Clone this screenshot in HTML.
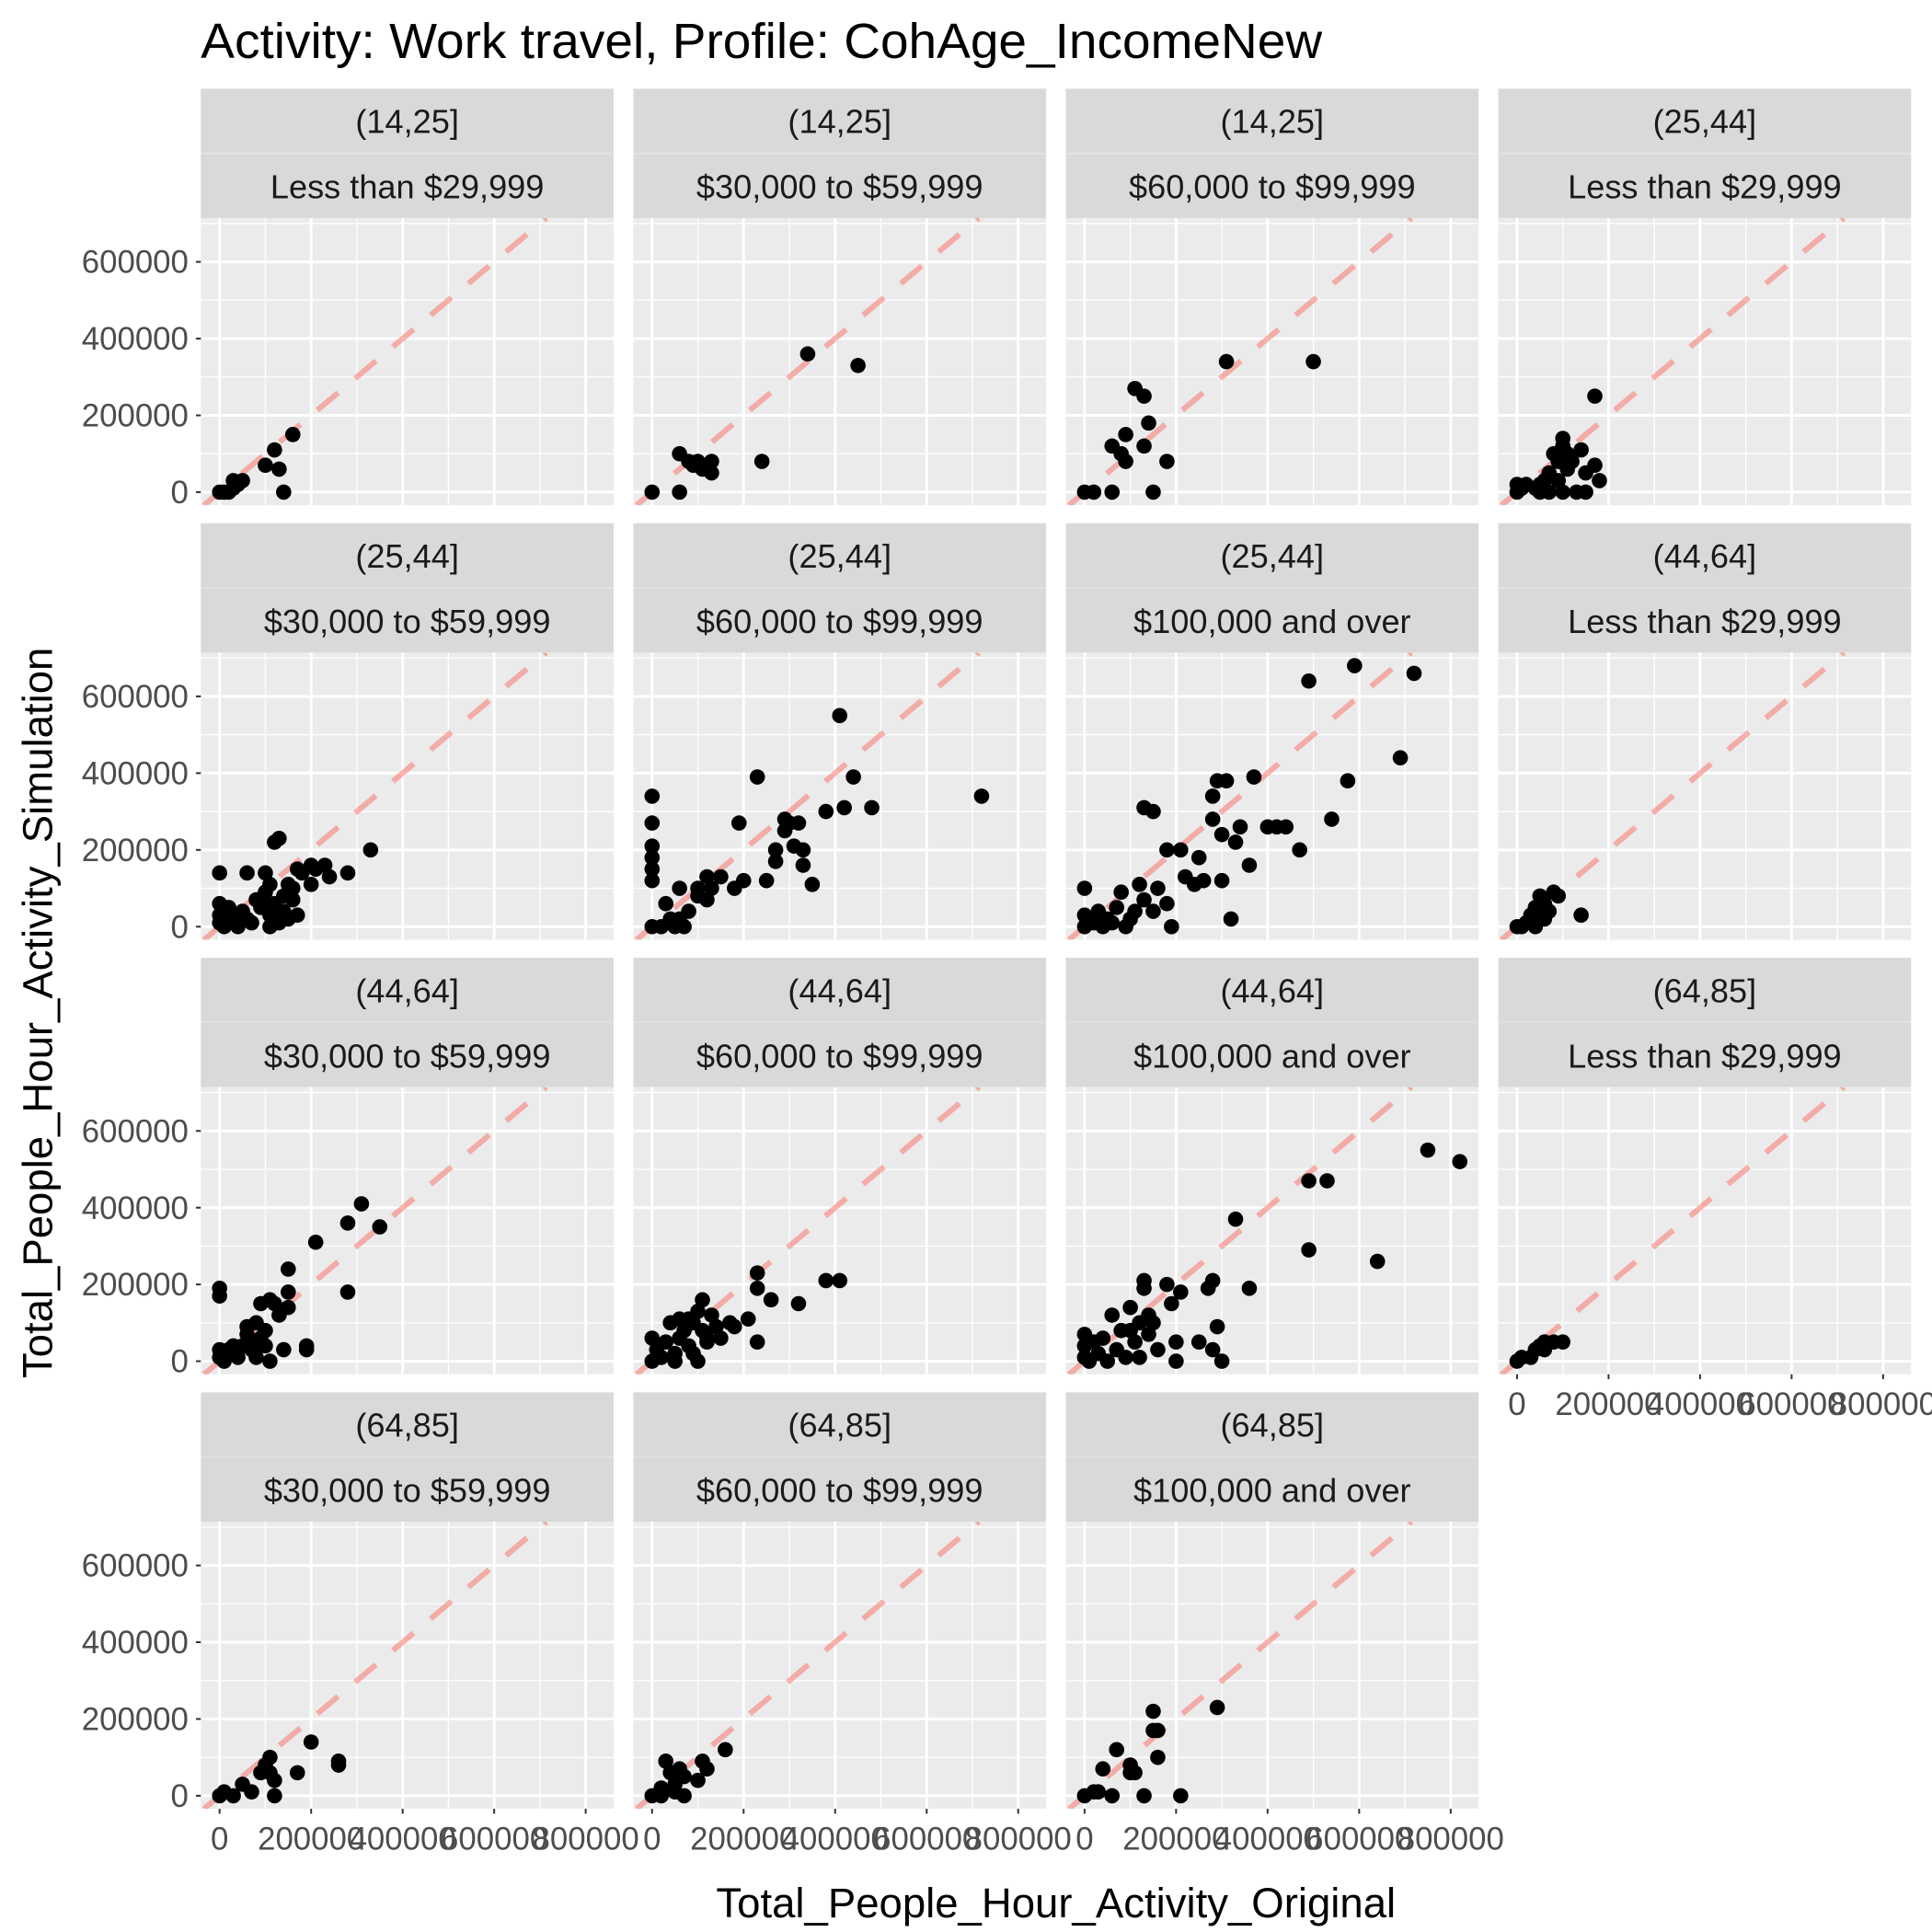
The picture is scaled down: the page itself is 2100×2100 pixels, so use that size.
<!DOCTYPE html>
<html><head><meta charset="utf-8"><style>
html,body{margin:0;padding:0;background:#fff}
svg{display:block}
text{font-family:"Liberation Sans",Arial,sans-serif}
</style></head><body>
<svg id="chart" width="2100" height="2100" viewBox="0 0 1568 1568" xmlns="http://www.w3.org/2000/svg">
<text x="163" y="47" font-size="40" fill="#000" textLength="910" lengthAdjust="spacingAndGlyphs">Activity: Work travel, Profile: CohAge_IncomeNew</text>
<text x="857" y="1556" font-size="34" text-anchor="middle" fill="#000">Total_People_Hour_Activity_Original</text>
<text x="0" y="0" font-size="34" text-anchor="middle" fill="#000" transform="translate(42,822) rotate(-90)">Total_People_Hour_Activity_Simulation</text>
<g id="panels"></g>
</svg>
<script>
const ageLabels = ["(14,25]","(14,25]","(14,25]","(25,44]","(25,44]","(25,44]","(25,44]","(44,64]","(44,64]","(44,64]","(44,64]","(64,85]","(64,85]","(64,85]","(64,85]"];
const incomeLabels = ["Less than $29,999","$30,000 to $59,999","$60,000 to $99,999","Less than $29,999","$30,000 to $59,999","$60,000 to $99,999","$100,000 and over","Less than $29,999","$30,000 to $59,999","$60,000 to $99,999","$100,000 and over","Less than $29,999","$30,000 to $59,999","$60,000 to $99,999","$100,000 and over"];
const xTicks = [0,200000,400000,600000,800000];
const yTicks = [0,200000,400000,600000];
const xTickLabels = ["0","200000","400000","600000","800000"];
const yTickLabels = ["0","200000","400000","600000"];
const p0x=[0,10000,30000,40000,30000,100000,120000,130000,140000,160000,20000,50000];
const p0y=[0,0,30000,20000,10000,70000,110000,60000,0,150000,0,30000];
const p1x=[0,60000,60000,80000,100000,110000,130000,130000,240000,340000,450000,90000];
const p1y=[0,0,100000,80000,80000,60000,50000,80000,80000,360000,330000,70000];
const p2x=[0,20000,60000,60000,80000,90000,90000,110000,130000,130000,140000,150000,180000,310000,500000];
const p2y=[0,0,120000,0,100000,150000,80000,270000,250000,120000,180000,0,80000,340000,340000];
const p3x=[0,0,10000,20000,40000,50000,50000,60000,70000,70000,80000,90000,100000,100000,110000,110000,120000,130000,140000,150000,150000,170000,170000,180000,100000,90000];
const p3y=[20000,0,10000,20000,10000,0,20000,30000,0,50000,100000,80000,120000,140000,100000,60000,80000,0,110000,0,50000,70000,250000,30000,0,30000];
const p4x=[0,0,0,0,10000,20000,30000,40000,50000,60000,60000,70000,90000,100000,100000,110000,110000,120000,120000,130000,130000,140000,140000,150000,150000,160000,170000,170000,180000,200000,200000,210000,230000,240000,280000,330000,100000,110000,160000,80000];
const p4y=[140000,60000,30000,10000,0,50000,20000,0,40000,20000,140000,10000,50000,90000,140000,30000,110000,60000,220000,230000,10000,80000,40000,110000,20000,70000,30000,150000,140000,110000,160000,150000,160000,130000,140000,200000,60000,0,100000,70000];
const p5x=[0,0,0,0,0,0,0,20000,30000,40000,50000,60000,60000,70000,80000,100000,120000,120000,130000,150000,180000,190000,200000,230000,250000,270000,270000,290000,290000,300000,310000,320000,330000,330000,350000,380000,410000,420000,440000,480000,720000,100000];
const p5y=[340000,270000,210000,180000,150000,120000,0,0,60000,20000,0,20000,100000,0,40000,100000,130000,70000,100000,130000,100000,270000,120000,390000,120000,170000,200000,250000,280000,270000,210000,270000,160000,200000,110000,300000,550000,310000,390000,310000,340000,80000];
const p6x=[0,0,0,20000,30000,40000,50000,60000,70000,80000,90000,100000,110000,120000,130000,130000,150000,150000,160000,180000,180000,190000,210000,220000,240000,250000,260000,280000,280000,300000,290000,300000,310000,320000,330000,340000,370000,400000,420000,470000,490000,590000,720000,690000,575000,540000,440000,360000];
const p6y=[100000,30000,0,10000,40000,0,20000,10000,50000,90000,0,20000,40000,110000,70000,310000,300000,40000,100000,60000,200000,0,200000,130000,110000,180000,120000,340000,280000,240000,380000,120000,380000,20000,220000,260000,390000,260000,260000,200000,640000,680000,660000,440000,380000,280000,260000,160000];
const p7x=[0,10000,20000,30000,40000,50000,60000,70000,80000,90000,40000,60000,140000,30000];
const p7y=[0,0,10000,30000,50000,80000,60000,40000,90000,80000,0,20000,30000,10000];
const p8x=[0,0,0,0,10000,20000,30000,40000,50000,60000,60000,70000,70000,80000,90000,90000,100000,100000,110000,110000,120000,130000,140000,150000,150000,150000,190000,190000,210000,280000,280000,310000,350000,80000,30000];
const p8y=[190000,170000,30000,10000,0,30000,20000,10000,40000,70000,90000,30000,50000,10000,150000,60000,80000,40000,160000,0,150000,120000,30000,240000,180000,140000,30000,40000,310000,360000,180000,410000,350000,100000,40000];
const p9x=[0,0,10000,20000,30000,40000,50000,50000,60000,60000,70000,80000,90000,90000,100000,100000,110000,110000,120000,130000,140000,150000,170000,180000,210000,230000,230000,230000,260000,320000,380000,410000,120000,80000];
const p9y=[60000,0,30000,10000,50000,100000,20000,0,60000,110000,80000,40000,100000,20000,130000,0,160000,80000,60000,120000,90000,60000,100000,90000,110000,230000,190000,50000,160000,150000,210000,210000,50000,110000];
const p10x=[0,0,0,10000,20000,30000,40000,50000,60000,70000,80000,90000,100000,110000,120000,120000,130000,130000,140000,150000,160000,180000,190000,200000,200000,210000,250000,270000,280000,290000,280000,300000,330000,360000,490000,490000,530000,640000,750000,820000,100000,140000];
const p10y=[70000,40000,10000,0,50000,20000,60000,0,120000,30000,80000,10000,140000,50000,10000,100000,190000,210000,70000,100000,30000,200000,150000,50000,0,180000,50000,190000,210000,90000,30000,0,370000,190000,470000,290000,470000,260000,550000,520000,80000,120000];
const p11x=[0,10000,30000,50000,60000,60000,80000,100000,40000];
const p11y=[0,10000,10000,40000,30000,50000,50000,50000,30000];
const p12x=[0,10000,30000,50000,70000,90000,100000,110000,110000,120000,120000,170000,200000,260000,260000];
const p12y=[0,10000,0,30000,10000,60000,80000,100000,60000,40000,0,60000,140000,90000,80000];
const p13x=[0,20000,30000,40000,50000,60000,70000,70000,100000,110000,120000,160000,20000,50000];
const p13y=[0,20000,90000,60000,30000,70000,50000,0,40000,90000,70000,120000,0,10000];
const p14x=[0,20000,30000,40000,60000,70000,100000,100000,110000,130000,150000,150000,160000,160000,290000,210000];
const p14y=[0,10000,10000,70000,0,120000,80000,60000,60000,0,220000,170000,170000,100000,230000,0];
const seriesX=[p0x,p1x,p2x,p3x,p4x,p5x,p6x,p7x,p8x,p9x,p10x,p11x,p12x,p13x,p14x];
const seriesY=[p0y,p1y,p2y,p3y,p4y,p5y,p6y,p7y,p8y,p9y,p10y,p11y,p12y,p13y,p14y];

const NS="http://www.w3.org/2000/svg";
const XMIN=-41000,XMAX=861000,YMIN=-34000,YMAX=714000;
const PW=335,PH=233,COL0=163,COLSTEP=351,ROW0=72,ROWSTEP=352.67,STRIP=105;
function mk(tag,attrs,parent){const e=document.createElementNS(NS,tag);for(const k in attrs)e.setAttribute(k,attrs[k]);parent.appendChild(e);return e;}
const root=document.getElementById("panels");
for(let i=0;i<15;i++){
  const col=i%4,row=Math.floor(i/4);
  const L=COL0+col*COLSTEP, T=ROW0+row*ROWSTEP, PT=T+STRIP;
  const sx=v=>L+(v-XMIN)/(XMAX-XMIN)*PW;
  const sy=v=>PT+PH-(v-YMIN)/(YMAX-YMIN)*PH;
  const g=mk("g",{},root);
  
  
  const s1=mk("rect",{x:L,y:T,width:PW,height:52,fill:"#d9d9d9"},g);
  
  
  const s2=mk("rect",{x:L,y:T+53,width:PW,height:52,fill:"#d9d9d9"},g);
  
  
  mk("line",{x1:L,x2:L+PW,y1:T+52.5,y2:T+52.5,stroke:"#e0e0e0","stroke-width":1},g);
  const t1=mk("text",{x:L+PW/2,y:T+36,"font-size":27,"text-anchor":"middle",fill:"#1a1a1a"},g);t1.textContent=ageLabels[i];
  
  
  const t2=mk("text",{x:L+PW/2,y:T+89,"font-size":27,"text-anchor":"middle",fill:"#1a1a1a"},g);t2.textContent=incomeLabels[i];
  
  
  const bg=mk("rect",{x:L,y:PT,width:PW,height:PH,fill:"#ebebeb"},g);
  
  
  for(let v=100000;v<XMAX;v+=200000)mk("line",{x1:sx(v),x2:sx(v),y1:PT,y2:PT+PH,stroke:"#fff","stroke-width":1},g);
  for(let v=100000;v<YMAX;v+=200000)mk("line",{x1:L,x2:L+PW,y1:sy(v),y2:sy(v),stroke:"#fff","stroke-width":1},g);
  xTicks.forEach(v=>mk("line",{x1:sx(v),x2:sx(v),y1:PT,y2:PT+PH,stroke:"#fff","stroke-width":2.2},g));
  yTicks.forEach(v=>mk("line",{x1:L,x2:L+PW,y1:sy(v),y2:sy(v),stroke:"#fff","stroke-width":2.2},g));
  const cid="clip"+i;
  const cp=mk("clipPath",{id:cid},g);mk("rect",{x:L,y:PT,width:PW,height:PH},cp);
  const dl=mk("line",{x1:sx(YMIN),y1:sy(YMIN),x2:sx(YMAX),y2:sy(YMAX),stroke:"#F8766D","stroke-opacity":0.55,"stroke-width":4.5,"stroke-dasharray":"22 18","clip-path":"url(#"+cid+")"},g);
  
  
  const xs=seriesX[i],ys=seriesY[i];
  for(let k=0;k<xs.length;k++){
    const c=mk("circle",{cx:sx(xs[k]),cy:sy(ys[k]),r:6.2,fill:"#000"},g);
    
    
  }
  if(col===0){
    yTicks.forEach((v,j)=>{
      mk("line",{x1:L-4,x2:L,y1:sy(v),y2:sy(v),stroke:"#333","stroke-width":1.5},g);
      const t=mk("text",{x:L-10,y:sy(v)+9,"font-size":26,"text-anchor":"end",fill:"#4d4d4d"},g);t.textContent=yTickLabels[j];
      
      
    });
  }
  if(row===3||i===11){
    xTicks.forEach((v,j)=>{
      mk("line",{x1:sx(v),x2:sx(v),y1:PT+PH,y2:PT+PH+4,stroke:"#333","stroke-width":1.5},g);
      const t=mk("text",{x:sx(v),y:PT+PH+33,"font-size":26,"text-anchor":"middle",fill:"#4d4d4d"},g);t.textContent=xTickLabels[j];
      
      
    });
  }
}
</script>
</body></html>
